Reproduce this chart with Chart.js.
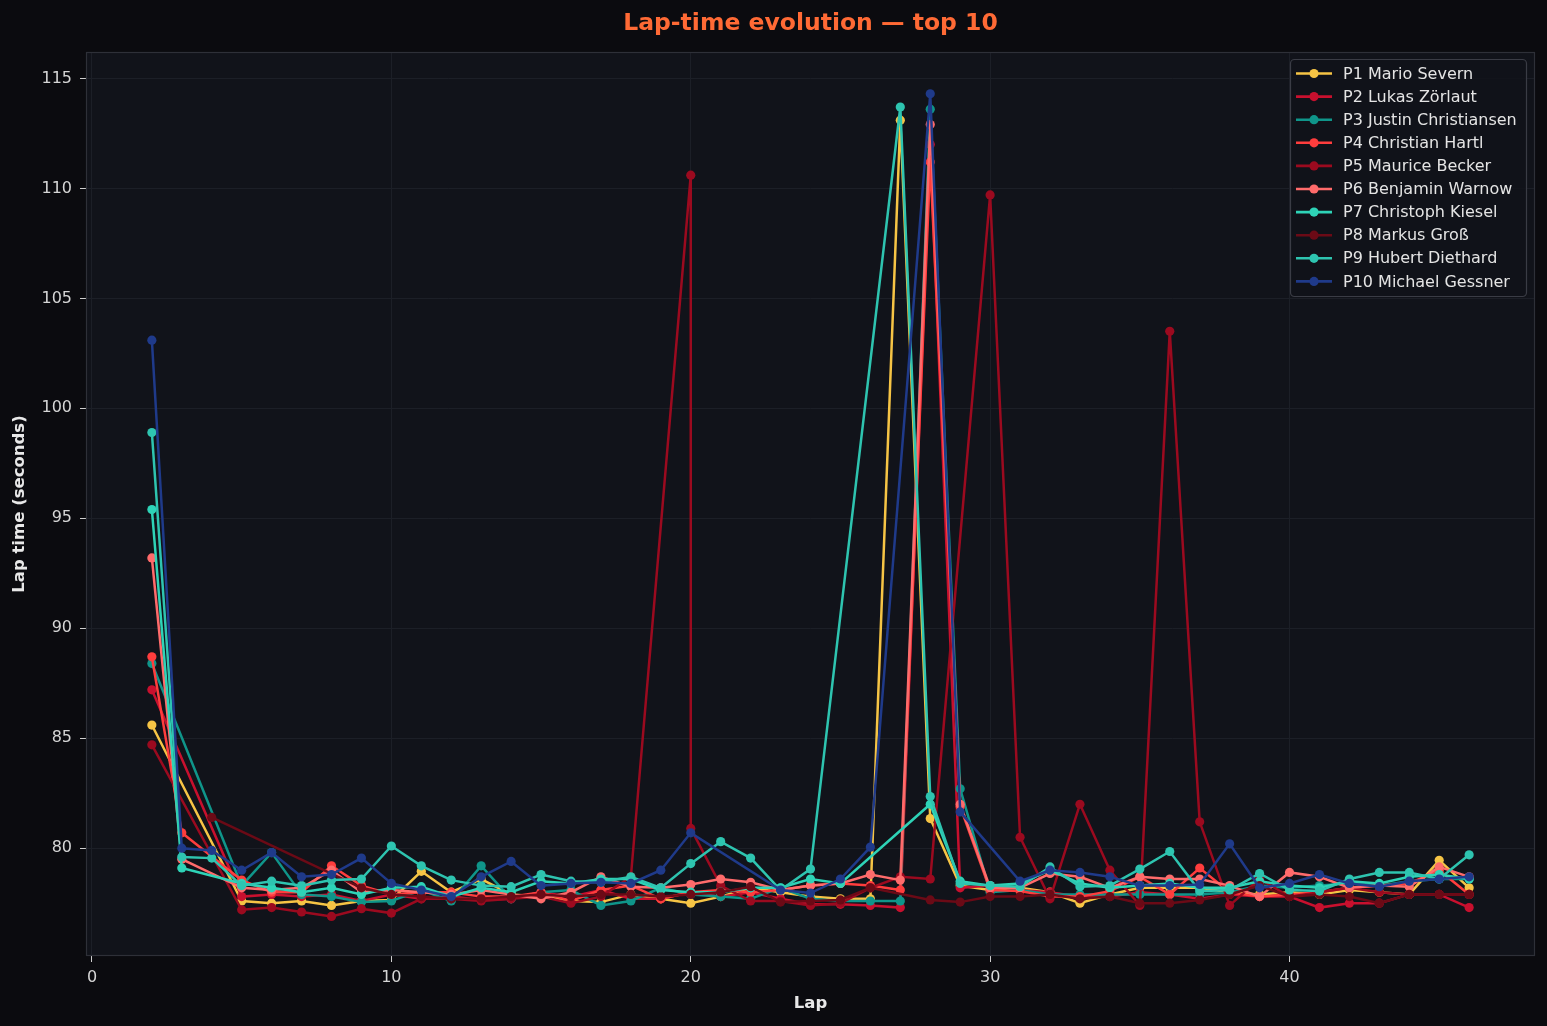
<!DOCTYPE html>
<html>
<head>
<meta charset="utf-8">
<title>Lap-time evolution</title>
<script src="https://cdn.jsdelivr.net/npm/chart.js@4.4.0/dist/chart.umd.min.js"></script>
<style>
  html, body { margin: 0; padding: 0; background: #0b0b0f; }
  #wrap { width: 1547px; height: 1026px; }
</style>
</head>
<body>
<div id="wrap"><canvas id="chart" width="1547" height="1026"></canvas></div>
<script>
// laps 2..46, null = no lap time, [a, b] = two readings on the same lap
const LAPS = [2, 3, 4, 5, 6, 7, 8, 9, 10, 11, 12, 13, 14, 15, 16, 17, 18, 19, 20, 21, 22, 23, 24,
  25, 26, 27, 28, 29, 30, 31, 32, 33, 34, 35, 36, 37, 38, 39, 40, 41, 42, 43, 44, 45, 46]

const DRIVERS = ['P1 Mario Severn', 'P2 Lukas Zörlaut', 'P3 Justin Christiansen', 'P4 Christian Hartl',
  'P5 Maurice Becker', 'P6 Benjamin Warnow', 'P7 Christoph Kiesel', 'P8 Markus Groß',
  'P9 Hubert Diethard', 'P10 Michael Gessner']

const COLORS = ['#f6c445', '#c8102e', '#0f958a', '#ff3d3d', '#9b0a1f',
  '#ff6b6b', '#2ed3b7', '#6b0a16', '#2ec4b0', '#1f3a8a']

const TITLE = 'Lap-time evolution — top 10'

const p1 = [85.6, null, null, 77.6, 77.5, 77.6, 77.4, 77.6, 77.65,
  78.95, 78.0, 78.6, 77.9, 77.8, 77.6, 77.55, 77.9, 77.7, 77.5,
  77.8, 78.2, 78.0, 77.8, 77.7, 77.7, 113.1, 81.35, 78.3, 78.1,
  78.2, 78.0, 77.5, 77.9, 78.2, 78.2, 78.2, 78.0, 77.9, 78.0,
  77.9, 78.1, 78.0, 77.9, 79.45, 78.2]
const p2 = [87.2, null, null, 77.8, 77.9, 77.8, 77.9, 77.6, 77.9,
  77.7, 77.8, 77.65, 77.7, 78.0, 77.8, 78.1, 77.7, 77.7, 78.0,
  77.8, 78.0, 77.7, 77.45, 77.45, 77.4, 77.3, 112.0, 78.2, 78.3,
  78.1, 78.0, 77.8, 77.8, 78.0, 77.9, 77.7, 77.9, 77.8, 77.8,
  77.3, 77.5, 77.5, 77.9, 77.9, 77.3]
const p3 = [88.4, null, null, 78.3, 79.8, 77.9, 77.8, 77.55, 77.6,
  78.1, 77.6, 79.2, 77.7, 78.0, 78.1, 77.4, 77.6, 78.2, 77.9,
  77.8, 77.7, 78.2, 77.7, 77.6, 77.6, 77.6, 113.6, 82.7, 78.0,
  78.1, 77.9, 77.9, 77.9, 77.9, 77.9, 77.9, 78.0, 78.3, 78.2,
  78.3, 78.4, 78.3, 78.5, 78.6, 78.6]
const p4 = [88.7, 80.7, null, 78.55, 78.0, 78.0, 79.2, 78.3, 77.9,
  78.0, 78.0, 77.8, 77.8, 78.0, 77.6, 78.1, 78.3, 77.7, 78.0,
  78.1, 78.0, 78.1, 78.3, 78.4, 78.3, 78.1, 111.2, 81.9, 78.1,
  78.05, 77.8, 77.8, 78.05, 78.7, 77.9, 79.1, 78.0, 77.8, 77.9,
  78.0, 78.2, 78.3, 78.4, 79.0, 77.9]
const p5 = [84.7, null, null, 77.2, 77.3, 77.1, 76.9, 77.25, 77.05,
  77.7, 77.7, 77.6, 77.7, 77.8, 77.5, 77.8, 78.7, null, [110.6, 80.9],
  78.3, 77.6, 77.6, 77.4, 77.5, 78.2, 78.7, 78.6, null, 109.7,
  80.5, 77.7, 82.0, 79.0, 77.4, 103.5, 81.2, 77.4, 78.6, 77.8,
  78.0, 78.2, 78.0, 77.9, 77.9, 77.9]
const p6 = [93.2, 79.5, null, 78.2, 78.1, 78.2, 79.0, 78.0, 78.1,
  78.0, 77.9, 78.1, 77.9, 77.7, 78.0, 78.7, 78.25, 78.2, 78.35,
  78.6, 78.45, 78.1, 78.3, 78.4, 78.8, 78.55, 112.9, 82.0, 78.2,
  78.2, 78.85, 78.7, 78.2, 78.7, 78.6, 78.6, 78.3, 77.8, 78.9,
  78.7, 78.2, 78.3, 78.25, 79.15, 78.7]
const p7 = [95.4, 79.1, null, 78.4, 78.2, 78.0, 78.2, 77.9, 78.2,
  78.25, 77.8, 78.2, 78.0, 78.5, 78.4, 78.6, 78.6, 78.1, 78.0,
  78.0, 78.2, 78.2, 78.6, 78.4, null, null, 82.0, 78.5, 78.3,
  78.4, 79.0, 78.4, 78.2, 78.3, 78.4, 78.2, 78.2, 78.5, 78.3,
  78.2, 78.5, 78.4, 78.7, 78.8, 78.6]
const p8 = [null, null, 81.4, null, null, null, null, 78.2, 77.9,
  77.8, 77.7, 77.7, 77.8, 77.9, 77.8, 77.9, 77.9, 77.8, 77.9,
  78.0, 78.25, 77.55, 77.6, 77.65, 78.2, null, 77.65, 77.55, 77.8,
  77.8, 77.9, 77.7, 77.8, 77.5, 77.5, 77.65, 77.9, 78.3, 77.8,
  77.9, 77.8, 77.5, 77.9, 77.9, 77.9]
const p9 = [98.9, 79.6, 79.55, 78.3, 78.5, 78.3, 78.55, 78.6, 80.1,
  79.2, 78.55, 78.3, 78.25, 78.8, 78.5, 78.45, 78.7, 78.2, 79.3,
  80.3, 79.55, 78.1, 79.05, null, null, 113.7, 82.35, 78.4, 78.3,
  78.25, 79.15, 78.25, 78.3, 79.05, 79.85, 78.05, 78.1, 78.85, 78.1,
  78.05, 78.6, 78.9, 78.9, 78.6, 79.7]
const p10 = [103.1, 80.0, 79.9, 79.0, 79.8, 78.7, 78.8, 79.55, 78.4,
  78.1, 77.8, 78.7, 79.4, 78.3, 78.4, 78.45, 78.4, 79.0, 80.7,
  null, null, 78.1, 77.96, 78.6, 80.05, null, 114.3, 81.65, null,
  78.5, 79.0, 78.9, 78.7, 78.3, 78.3, 78.35, 80.2, 78.2, 78.4,
  78.8, 78.4, 78.25, 78.5, 78.6, 78.7]

const SERIES = [p1, p2, p3, p4, p5, p6, p7, p8, p9, p10]

const X_TICKS = [0, 10, 20, 30, 40]
const Y_TICKS = [80, 85, 90, 95, 100, 105, 110, 115]

Chart.defaults.font.family = "'DejaVu Sans', sans-serif"
Chart.defaults.color = '#d8d8d8'

function toPoints(values) {
  const pts = []
  values.forEach((v, i) => {
    if (v == null) return
    ;[].concat(v).forEach(t => pts.push({x: LAPS[i], y: t}))
  })
  return pts
}

const datasets = SERIES.map((vals, i) => ({
  label: DRIVERS[i],
  data: toPoints(vals),
  borderColor: COLORS[i],
  backgroundColor: COLORS[i],
  borderWidth: 2.5,
  pointRadius: 4.6,
  pointBorderWidth: 0,
  pointHoverRadius: 4.6,
  tension: 0,
  order: SERIES.length - i   // P1 drawn first, P10 on top
}))

const frame = {
  id: 'frame',
  beforeDraw(chart) {
    const {ctx, chartArea: a} = chart
    ctx.save()
    ctx.fillStyle = '#0b0b0f'
    ctx.fillRect(0, 0, chart.width, chart.height)
    ctx.fillStyle = '#11131a'
    ctx.fillRect(a.left, a.top, a.right - a.left, a.bottom - a.top)
    // title is centred over the plot area, not the canvas
    ctx.fillStyle = '#ff6a35'
    ctx.font = "bold 23.5px 'DejaVu Sans'"
    ctx.textAlign = 'center'
    ctx.textBaseline = 'middle'
    ctx.fillText(TITLE, (a.left + a.right) / 2, 24)
    ctx.restore()
  },
  afterDatasetsDraw(chart) {
    const {ctx, chartArea: a} = chart
    ctx.save()
    ctx.strokeStyle = '#2e3038'
    ctx.lineWidth = 1.2
    ctx.strokeRect(a.left + 0.5, a.top + 0.5, a.right - a.left - 1, a.bottom - a.top - 1)
    ctx.restore()
  }
}

const boxLegend = {
  id: 'boxLegend',
  afterDraw(chart) {
    const {ctx, chartArea: a} = chart
    const rowH = 23.1, boxW = 236, boxH = 237
    const x0 = a.right - 9 - boxW, y0 = a.top + 7
    ctx.save()
    ctx.fillStyle = 'rgba(17,19,26,0.85)'
    ctx.strokeStyle = '#3a3c45'
    ctx.lineWidth = 1.2
    ctx.beginPath()
    ctx.roundRect(x0 + 0.5, y0 + 0.5, boxW, boxH, 4)
    ctx.fill()
    ctx.stroke()
    ctx.font = "16px 'DejaVu Sans'"
    ctx.textBaseline = 'middle'
    DRIVERS.forEach((name, i) => {
      const y = y0 + 14.5 + i * rowH
      ctx.strokeStyle = COLORS[i]
      ctx.lineWidth = 2.6
      ctx.beginPath()
      ctx.moveTo(x0 + 6, y)
      ctx.lineTo(x0 + 42, y)
      ctx.stroke()
      ctx.fillStyle = COLORS[i]
      ctx.beginPath()
      ctx.arc(x0 + 24, y, 4.6, 0, Math.PI * 2)
      ctx.fill()
      ctx.fillStyle = '#e4e4e4'
      ctx.fillText(name, x0 + 53, y + 1)
    })
    ctx.restore()
  }
}

new Chart(document.getElementById('chart'), {
  type: 'line',
  data: {datasets},
  plugins: [frame, boxLegend],
  options: {
    responsive: false,
    animation: false,
    devicePixelRatio: 1,
    layout: {padding: {left: 0, right: 12, top: 52, bottom: 0}},
    plugins: {
      legend: {display: false},
      tooltip: {enabled: false},
      title: {display: false}
    },
    scales: {
      x: {
        type: 'linear',
        min: -0.2,
        max: 48.2,
        afterBuildTicks: scale => { scale.ticks = X_TICKS.map(v => ({value: v})) },
        afterFit: scale => { scale.height = 70 },
        grid: {color: '#1c1f27', lineWidth: 1, tickLength: 6, tickColor: '#cfcfcf'},
        border: {display: false},
        ticks: {color: '#d6d6d6', font: {size: 16}, padding: 6},
        title: {display: true, text: 'Lap', color: '#e8e8e8', font: {size: 16.5, weight: 'bold'}, padding: {top: 4, bottom: 12}}
      },
      y: {
        type: 'linear',
        min: 75.1,
        max: 116.2,
        afterBuildTicks: scale => { scale.ticks = Y_TICKS.map(v => ({value: v})) },
        afterFit: scale => { scale.width = 86 },
        grid: {color: '#1c1f27', lineWidth: 1, tickLength: 6, tickColor: '#cfcfcf'},
        border: {display: false},
        ticks: {color: '#d6d6d6', font: {size: 16}, padding: 8},
        title: {display: true, text: 'Lap time (seconds)', color: '#e8e8e8', font: {size: 16.5, weight: 'bold'}, padding: {top: 10, bottom: 0}}
      }
    }
  }
})
</script>
</body>
</html>
